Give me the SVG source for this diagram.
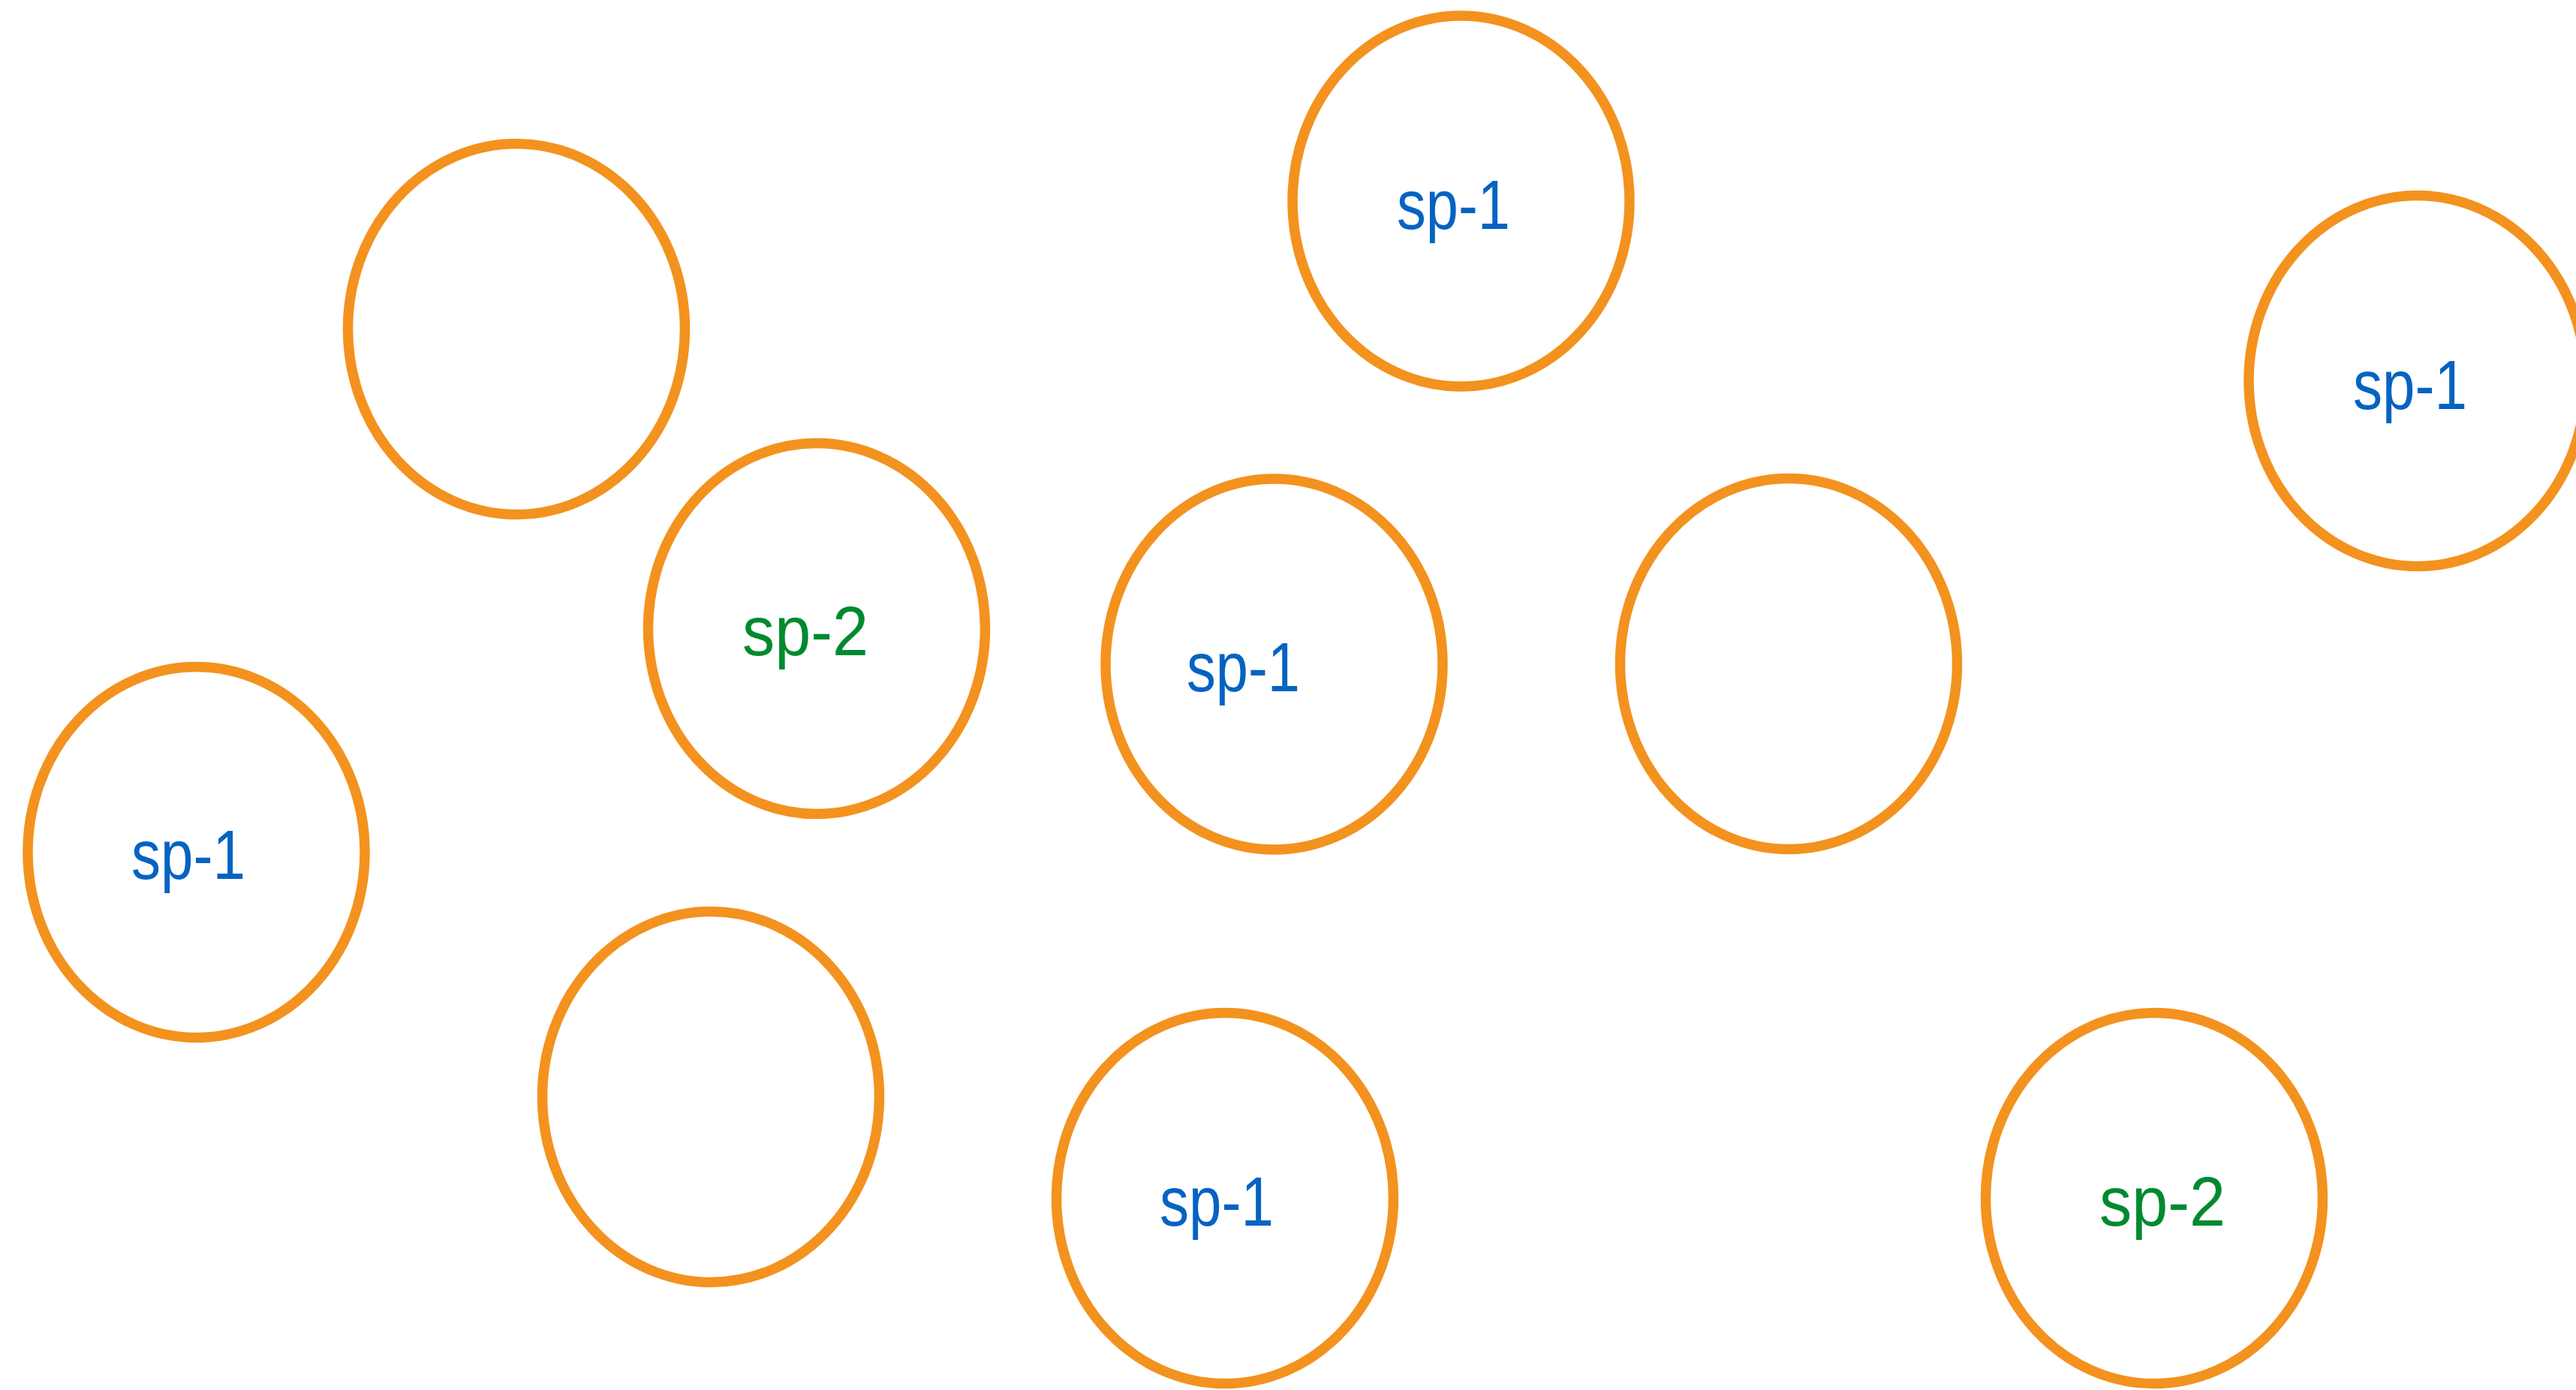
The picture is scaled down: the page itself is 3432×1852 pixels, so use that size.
<svg xmlns="http://www.w3.org/2000/svg" width="3432" height="1852" viewBox="0 0 3432 1852">
<style>
.n{fill:#FFFFFF;stroke:#F3921E;stroke-width:13.5}
.t{font-family:"Liberation Sans",Arial,sans-serif;font-size:92px}
.b{fill:#0563C1}
.g{fill:#008A2F}
</style>
<rect width="3432" height="1852" fill="#FFFFFF"/>
<g id="connectors"></g>
<g id="n1"><ellipse class="n" cx="688" cy="438.5" rx="224.5" ry="247"/></g>
<g id="n2"><ellipse class="n" cx="1946.5" cy="268" rx="224.5" ry="247"/><text class="t b" x="1861" y="304.5" textLength="151" lengthAdjust="spacingAndGlyphs">sp-1</text></g>
<g id="n3"><ellipse class="n" cx="3220.5" cy="507.5" rx="224.5" ry="247"/><text class="t b" x="3135" y="544.5" textLength="152" lengthAdjust="spacingAndGlyphs">sp-1</text></g>
<g id="n4"><ellipse class="n" cx="1088" cy="837.5" rx="224.5" ry="247"/><text class="t g" x="989" y="873" textLength="168" lengthAdjust="spacingAndGlyphs">sp-2</text></g>
<g id="n5"><ellipse class="n" cx="1697.5" cy="885" rx="224.5" ry="247"/><text class="t b" x="1581" y="920.5" textLength="151" lengthAdjust="spacingAndGlyphs">sp-1</text></g>
<g id="n6"><ellipse class="n" cx="2383" cy="884.5" rx="224.5" ry="247"/></g>
<g id="n7"><ellipse class="n" cx="261.5" cy="1135.5" rx="224.5" ry="247"/><text class="t b" x="175" y="1170.5" textLength="152" lengthAdjust="spacingAndGlyphs">sp-1</text></g>
<g id="n8"><ellipse class="n" cx="947" cy="1461.5" rx="224.5" ry="247"/></g>
<g id="n9"><ellipse class="n" cx="1632" cy="1596.5" rx="224.5" ry="247"/><text class="t b" x="1545" y="1633" textLength="152" lengthAdjust="spacingAndGlyphs">sp-1</text></g>
<g id="n10"><ellipse class="n" cx="2870" cy="1596.5" rx="224.5" ry="247"/><text class="t g" x="2797" y="1633" textLength="168" lengthAdjust="spacingAndGlyphs">sp-2</text></g>
</svg>
